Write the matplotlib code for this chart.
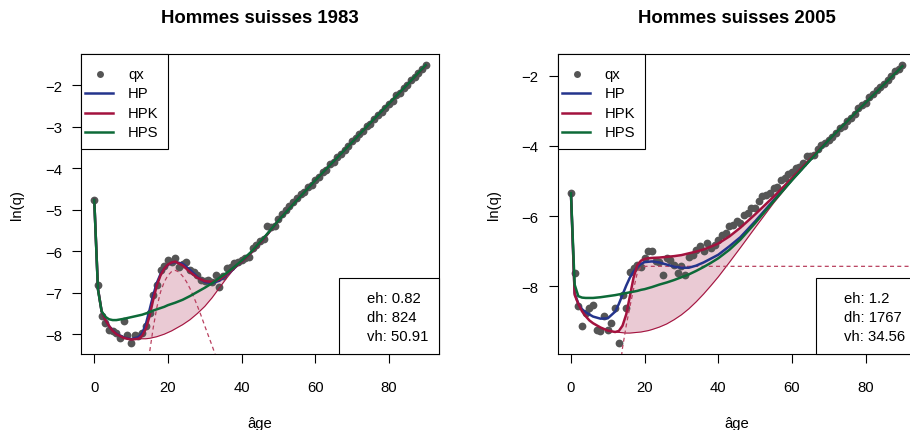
import numpy as np
import matplotlib
matplotlib.use("Agg")
import matplotlib.pyplot as plt
from matplotlib.patches import Rectangle

plt.rcParams["font.family"] = ["Liberation Sans", "DejaVu Sans"]

# ---------------------------------------------------------------- data
ages = np.arange(0, 91)

qx_1983 = [
    -4.76, -6.81, -7.57, -7.73, -7.89, -7.93, -7.98, -8.09, -7.69, -8.01,
    -8.21, -8.01, -8.05, -7.97, -7.81, -7.50, -7.05, -6.81, -6.45, -6.35,
    -6.21, -6.25, -6.17, -6.37, -6.30, -6.25, -6.45, -6.49, -6.57, -6.69,
    -6.72, -6.70, -6.73, -6.57, -6.85, -6.60, -6.41, -6.37, -6.28, -6.25,
    -6.20, -6.17, -6.13, -5.93, -5.85, -5.76, -5.70, -5.40, -5.42, -5.40,
    -5.22, -5.10, -5.00, -4.90, -4.82, -4.72, -4.62, -4.58, -4.45, -4.40,
    -4.27, -4.22, -4.08, -4.03, -3.90, -3.84, -3.72, -3.66, -3.55, -3.47,
    -3.35, -3.28, -3.16, -3.11, -2.98, -2.92, -2.80, -2.72, -2.63, -2.55,
    -2.44, -2.37, -2.24, -2.18, -2.06, -1.99, -1.88, -1.80, -1.70, -1.60,
    -1.51,
]

qx_2005 = [
    -5.35, -7.62, -8.57, -9.14, -8.76, -8.62, -8.52, -9.23, -9.26, -8.85,
    -9.25, -9.04, -8.62, -9.61, -8.24, -8.62, -7.60, -7.48, -7.38, -7.45,
    -7.19, -7.00, -7.00, -7.29, -7.30, -7.67, -7.19, -7.24, -7.38, -7.62,
    -7.43, -7.67, -7.15, -7.10, -6.96, -6.86, -7.00, -6.77, -6.91, -6.82,
    -6.67, -6.53, -6.48, -6.29, -6.25, -6.15, -6.20, -5.96, -5.92, -5.77,
    -5.77, -5.58, -5.44, -5.40, -5.35, -5.20, -5.16, -4.98, -4.92, -4.80,
    -4.73, -4.62, -4.59, -4.50, -4.30, -4.28, -4.26, -4.10, -3.98, -3.93,
    -3.82, -3.76, -3.62, -3.50, -3.42, -3.30, -3.22, -3.08, -2.92, -2.85,
    -2.78, -2.62, -2.52, -2.42, -2.32, -2.24, -2.13, -2.00, -1.88, -1.80,
    -1.70,
]

# ages at which the fitted log-mortality curves are tabulated
fit_ages = [0, 1, 2, 3, 4, 5, 6, 8, 10, 12, 13, 14, 15, 16, 17, 18, 19, 20,
            21, 22, 24, 26, 28, 30, 32, 34, 36, 38, 40, 43, 46, 50, 55, 60,
            65, 70, 75, 80, 85, 90]

hp_1983 = [-4.76, -6.90, -7.45, -7.65, -7.80, -7.91, -7.99, -8.08, -8.12,
           -8.07, -7.98, -7.76, -7.42, -7.06, -6.76, -6.55, -6.42, -6.33,
           -6.28, -6.26, -6.30, -6.45, -6.62, -6.74, -6.77, -6.71, -6.57,
           -6.41, -6.25, -6.00, -5.70, -5.26, -4.77, -4.29, -3.83, -3.37,
           -2.90, -2.44, -1.98, -1.52]
hpk_1983 = [-4.76, -6.90, -7.45, -7.65, -7.80, -7.92, -8.00, -8.09, -8.13,
            -8.11, -8.04, -7.87, -7.57, -7.17, -6.82, -6.58, -6.42, -6.32,
            -6.27, -6.25, -6.34, -6.50, -6.64, -6.72, -6.74, -6.68, -6.55,
            -6.40, -6.25, -6.00, -5.70, -5.26, -4.77, -4.29, -3.83, -3.37,
            -2.90, -2.44, -1.98, -1.52]
hps_1983 = [-4.76, -6.92, -7.45, -7.58, -7.64, -7.66, -7.66, -7.63, -7.59,
            -7.55, -7.53, -7.50, -7.47, -7.43, -7.40, -7.37, -7.34, -7.30,
            -7.27, -7.24, -7.17, -7.08, -6.98, -6.88, -6.77, -6.64, -6.52,
            -6.38, -6.23, -5.98, -5.68, -5.26, -4.77, -4.29, -3.83, -3.37,
            -2.90, -2.44, -1.98, -1.51]

hp_2005 = [-5.35, -8.19, -8.50, -8.65, -8.74, -8.80, -8.86, -8.92, -8.91,
           -8.72, -8.50, -8.24, -7.98, -7.75, -7.58, -7.45, -7.36, -7.31,
           -7.30, -7.29, -7.32, -7.38, -7.44, -7.47, -7.47, -7.41, -7.32,
           -7.21, -7.10, -6.86, -6.60, -6.15, -5.55, -4.96, -4.39, -3.83,
           -3.30, -2.77, -2.25, -1.73]
hpk_2005 = [-5.35, -8.24, -8.50, -8.71, -8.85, -8.97, -9.05, -9.17, -9.26,
            -9.30, -9.27, -9.12, -8.80, -8.28, -7.75, -7.40, -7.27, -7.22,
            -7.20, -7.19, -7.18, -7.16, -7.14, -7.11, -7.06, -7.01, -6.95,
            -6.87, -6.78, -6.58, -6.33, -5.95, -5.45, -4.92, -4.37, -3.83,
            -3.30, -2.77, -2.25, -1.73]
hps_2005 = [-5.35, -7.95, -8.28, -8.32, -8.33, -8.33, -8.33, -8.31, -8.28,
            -8.25, -8.23, -8.21, -8.19, -8.17, -8.15, -8.13, -8.10, -8.08,
            -8.05, -8.02, -7.95, -7.89, -7.82, -7.74, -7.66, -7.56, -7.45,
            -7.33, -7.20, -6.96, -6.67, -6.20, -5.58, -4.98, -4.40, -3.83,
            -3.30, -2.77, -2.25, -1.73]

# HPK curve without the accident hump (child + senescent terms)
base_ages = [12, 13, 14, 15, 16, 17, 18, 19, 20, 21, 22, 24, 26, 28, 30, 32,
             34, 36, 38, 40, 43, 46, 50, 55, 60, 65, 70]
base_1983 = [-8.11, -8.11, -8.11, -8.10, -8.08, -8.06, -8.03, -8.00, -7.96,
             -7.92, -7.87, -7.77, -7.65, -7.50, -7.33, -7.12, -6.88, -6.64,
             -6.42, -6.26, -6.01, -5.71, -5.27, -4.78, -4.30, -3.84, -3.38]
base_2005 = [-9.30, -9.31, -9.32, -9.33, -9.33, -9.32, -9.31, -9.30, -9.28,
             -9.26, -9.23, -9.16, -9.07, -8.95, -8.81, -8.64, -8.44, -8.22,
             -7.98, -7.73, -7.32, -6.90, -6.33, -5.63, -4.99, -4.41, -3.84]

# accident hump term alone
hump_ages_1983 = [14, 15, 16, 17, 18, 19, 20, 21, 22, 23, 24, 25, 26, 27,
                  28, 29, 30, 31, 32, 33, 34]
hump_1983 = [-9.10, -8.45, -7.85, -7.35, -6.98, -6.74, -6.58, -6.49, -6.46,
             -6.50, -6.60, -6.73, -6.90, -7.10, -7.32, -7.55, -7.80, -8.04,
             -8.28, -8.53, -8.80]
hump_ages_2005 = [13, 14, 15, 16, 17, 18, 19, 20, 30, 40, 60, 80, 100]
hump_2005 = [-10.60, -9.75, -9.12, -8.58, -8.08, -7.62, -7.45, -7.43, -7.43,
             -7.43, -7.43, -7.43, -7.43]

stats_1983 = ["eh: 0.82", "dh: 824", "vh: 50.91"]
stats_2005 = ["eh: 1.2", "dh: 1767", "vh: 34.56"]

series_labels = ["qx", "HP", "HPK", "HPS"]

# ---------------------------------------------------------------- style
PT_COLOR = "#555555"
HP_COLOR = "#24348C"
HPK_COLOR = "#A3123E"
HPS_COLOR = "#0D6A38"
FILL_COLOR = (0.64, 0.07, 0.24, 0.22)
DASH_COLOR = "#B9405F"
FS = 10.7

W, H = 910, 431
fig = plt.figure(figsize=(W / 100, H / 100), dpi=100)

AX_W, AX_H = 358, 300
AX_BOTTOM = 431 - 355


def draw_panel(left_px, title, qx, hp, hpk, hps, base, hump_x, hump_y,
               yticks, stats):
    ax = fig.add_axes([left_px / W, AX_BOTTOM / H, AX_W / W, AX_H / H])

    fit_x = np.array(fit_ages)
    hpk_arr = np.array(hpk)
    base_x = np.array(base_ages)
    sel = np.isin(fit_x, base_x)

    # shaded hump region between HPK and its hump-free component
    ax.fill_between(base_x, np.array(base), hpk_arr[sel], color=FILL_COLOR,
                    linewidth=0, zorder=1)

    ax.plot(ages, qx, "o", color=PT_COLOR, markersize=5.6,
            markeredgewidth=0, zorder=2)

    ax.plot(base_x, base, color=HPK_COLOR, lw=0.8, zorder=3)
    ax.plot(hump_x, hump_y, color=DASH_COLOR, lw=0.9, dashes=(3.2, 2.6),
            zorder=3)

    ax.plot(fit_x, hp, color=HP_COLOR, lw=1.8, zorder=4,
            solid_joinstyle="round")
    ax.plot(fit_x, hpk, color=HPK_COLOR, lw=1.8, zorder=5,
            solid_joinstyle="round")
    ax.plot(fit_x, hps, color=HPS_COLOR, lw=1.8, zorder=6,
            solid_joinstyle="round")

    # R-like 4 % axis expansion
    xr = ages.max() - ages.min()
    ax.set_xlim(ages.min() - 0.04 * xr, ages.max() + 0.04 * xr)
    lo, hi = min(qx), max(qx)
    yr = hi - lo
    ax.set_ylim(lo - 0.04 * yr, hi + 0.04 * yr)

    ax.set_xticks([0, 20, 40, 60, 80])
    ax.set_yticks(yticks)
    ax.tick_params(axis="both", direction="out", length=6.8, width=0.8,
                   labelsize=FS, color="black")
    ax.tick_params(axis="x", pad=11.9)
    ax.tick_params(axis="y", pad=7.0)
    for sp in ax.spines.values():
        sp.set_linewidth(0.8)
        sp.set_color("black")

    ax.set_title(title, fontsize=13.4, fontweight="bold", pad=22.8)
    ax.text(0.5, -73 / AX_H, "âge", transform=ax.transAxes, ha="center",
            va="baseline", fontsize=FS)
    ax.text(-64 / AX_W, 0.5, "ln(q)", transform=ax.transAxes, rotation=90,
            ha="center", va="center", fontsize=FS)

    # legend box (top left)
    tr = ax.transAxes
    lw_box, lh_box = 87 / AX_W, 95 / AX_H
    ax.add_patch(Rectangle((0, 1 - lh_box), lw_box, lh_box, transform=tr,
                           facecolor="white", edgecolor="black", lw=0.8,
                           zorder=10, clip_on=False))
    rows_y = [1 - 20 / AX_H, 1 - 39 / AX_H, 1 - 59 / AX_H, 1 - 78 / AX_H]
    hx0, hx1, hxm = 4 / AX_W, 32 / AX_W, 19 / AX_W
    ax.plot([hxm], [rows_y[0]], "o", color=PT_COLOR, markersize=5.0,
            markeredgewidth=0, transform=tr, zorder=11, clip_on=False)
    for yy, col in zip(rows_y[1:], [HP_COLOR, HPK_COLOR, HPS_COLOR]):
        ax.plot([hx0, hx1], [yy, yy], color=col, lw=1.8, transform=tr,
                zorder=11, clip_on=False)
    for yy, lab in zip(rows_y, series_labels):
        ax.text(47 / AX_W, yy, lab, transform=tr, ha="left", va="center",
                fontsize=FS, zorder=12)

    # statistics box (bottom right)
    sw, sh = 100 / AX_W, 76 / AX_H
    ax.add_patch(Rectangle((1 - sw, 0), sw, sh, transform=tr,
                           facecolor="white", edgecolor="black", lw=0.8,
                           zorder=10, clip_on=False))
    for k, s in enumerate(stats):
        ax.text(1 - 72 / AX_W, (56 - 19.2 * k) / AX_H, s, transform=tr,
                ha="left", va="center", fontsize=FS, zorder=12)
    return ax


draw_panel(81, "Hommes suisses 1983", qx_1983, hp_1983, hpk_1983, hps_1983,
           base_1983, hump_ages_1983, hump_1983, [-8, -7, -6, -5, -4, -3, -2],
           stats_1983)
draw_panel(557.7, "Hommes suisses 2005", qx_2005, hp_2005, hpk_2005, hps_2005,
           base_2005, hump_ages_2005, hump_2005, [-8, -6, -4, -2], stats_2005)

fig.savefig("out.png", dpi=100)
